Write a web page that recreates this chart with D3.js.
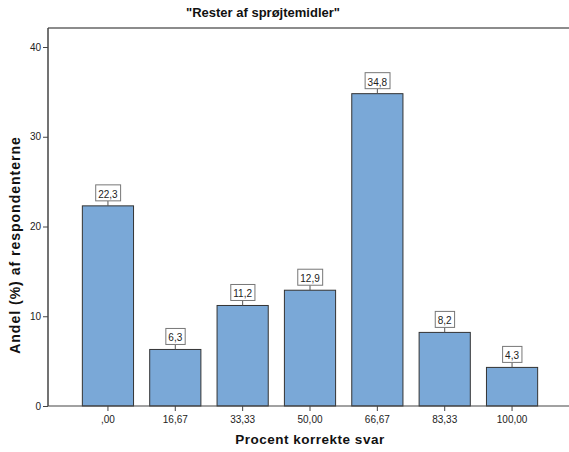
<!DOCTYPE html>
<html>
<head>
<meta charset="utf-8">
<script src="https://cdn.jsdelivr.net/npm/d3@7"></script>
<style>
  body { margin: 0; background: #fff; }
  svg { display: block; font-family: Arial, 'Liberation Sans', sans-serif; }
  .axis path, .axis line { stroke: #444; }
  .axis text { fill: #222; font-size: 10px; }
</style>
</head>
<body>
<svg id="chart" width="569" height="452"></svg>
<script>
const categories = [',00', '16,67', '33,33', '50,00', '66,67', '83,33', '100,00'];
const values = [22.3, 6.3, 11.2, 12.9, 34.8, 8.2, 4.3];
const yTicks = [0, 10, 20, 30, 40];

const title = '"Rester af sprøjtemidler"';
const xTitle = 'Procent korrekte svar';
const yTitle = 'Andel (%) af respondenterne';

const margin = { top: 28, right: -3, bottom: 46, left: 48 };
const W = 569, H = 452;

const svg = d3.select('#chart');

const x = d3.scaleBand()
  .domain(categories)
  .range([margin.left, W - margin.right])
  .paddingInner(0.24)
  .paddingOuter(0.51);

const y = d3.scaleLinear()
  .domain([0, 40])
  .range([H - margin.bottom, 47]);

// top frame line
svg.append('line')
  .attr('x1', margin.left).attr('x2', W)
  .attr('y1', margin.top).attr('y2', margin.top)
  .attr('stroke', '#666').attr('stroke-width', 1.5);

// bars
const data = categories.map((c, i) => ({ c, v: values[i] }));

svg.append('g')
  .selectAll('rect')
  .data(data)
  .join('rect')
  .attr('x', d => x(d.c))
  .attr('width', x.bandwidth())
  .attr('y', d => y(d.v))
  .attr('height', d => y(0) - y(d.v))
  .attr('fill', '#7aa8d7')
  .attr('stroke', '#333')
  .attr('stroke-width', 1);

// axes
svg.append('g')
  .attr('class', 'axis')
  .attr('transform', `translate(0,${y(0)})`)
  .call(d3.axisBottom(x).tickSize(5).tickPadding(5).tickSizeOuter(0))
  .call(g => g.select('.domain').attr('d', `M${margin.left},0H${W}`).attr('stroke-width', 1.2));

svg.append('g')
  .attr('class', 'axis')
  .attr('transform', `translate(${margin.left},0)`)
  .call(d3.axisLeft(y).tickValues(yTicks).tickSize(5).tickPadding(2).tickSizeOuter(0))
  .call(g => g.select('.domain').attr('d', `M0,${margin.top}V${y(0)}`).attr('stroke-width', 1.5));

// value labels
const labels = svg.append('g')
  .selectAll('g')
  .data(data)
  .join('g')
  .attr('transform', d => `translate(${x(d.c) + x.bandwidth() / 2},${y(d.v)})`);

labels.append('line')
  .attr('y1', 0).attr('y2', -5)
  .attr('stroke', '#555');

labels.append('text')
  .attr('y', -8)
  .attr('text-anchor', 'middle')
  .attr('font-size', 10)
  .attr('fill', '#222')
  .text(d => d3.format('.1f')(d.v).replace('.', ','))
  .each(function () {
    const b = this.getBBox();
    d3.select(this.parentNode).insert('rect', 'text')
      .attr('x', b.x - 2.5)
      .attr('y', -21)
      .attr('width', b.width + 5)
      .attr('height', 16)
      .attr('fill', '#fff')
      .attr('stroke', '#777');
  });

// titles
svg.append('text')
  .attr('x', 263).attr('y', 17)
  .attr('text-anchor', 'middle')
  .attr('font-size', 13).attr('font-weight', 'bold')
  .attr('fill', '#111')
  .text(title);

svg.append('text')
  .attr('x', 310).attr('y', 444)
  .attr('text-anchor', 'middle')
  .attr('font-size', 13.5).attr('font-weight', 'bold')
  .attr('letter-spacing', 0.5)
  .attr('fill', '#111')
  .text(xTitle);

svg.append('text')
  .attr('transform', 'translate(20,245) rotate(-90)')
  .attr('text-anchor', 'middle')
  .attr('font-size', 14).attr('font-weight', 'bold')
  .attr('letter-spacing', 1)
  .attr('fill', '#111')
  .text(yTitle);
</script>
</body>
</html>
